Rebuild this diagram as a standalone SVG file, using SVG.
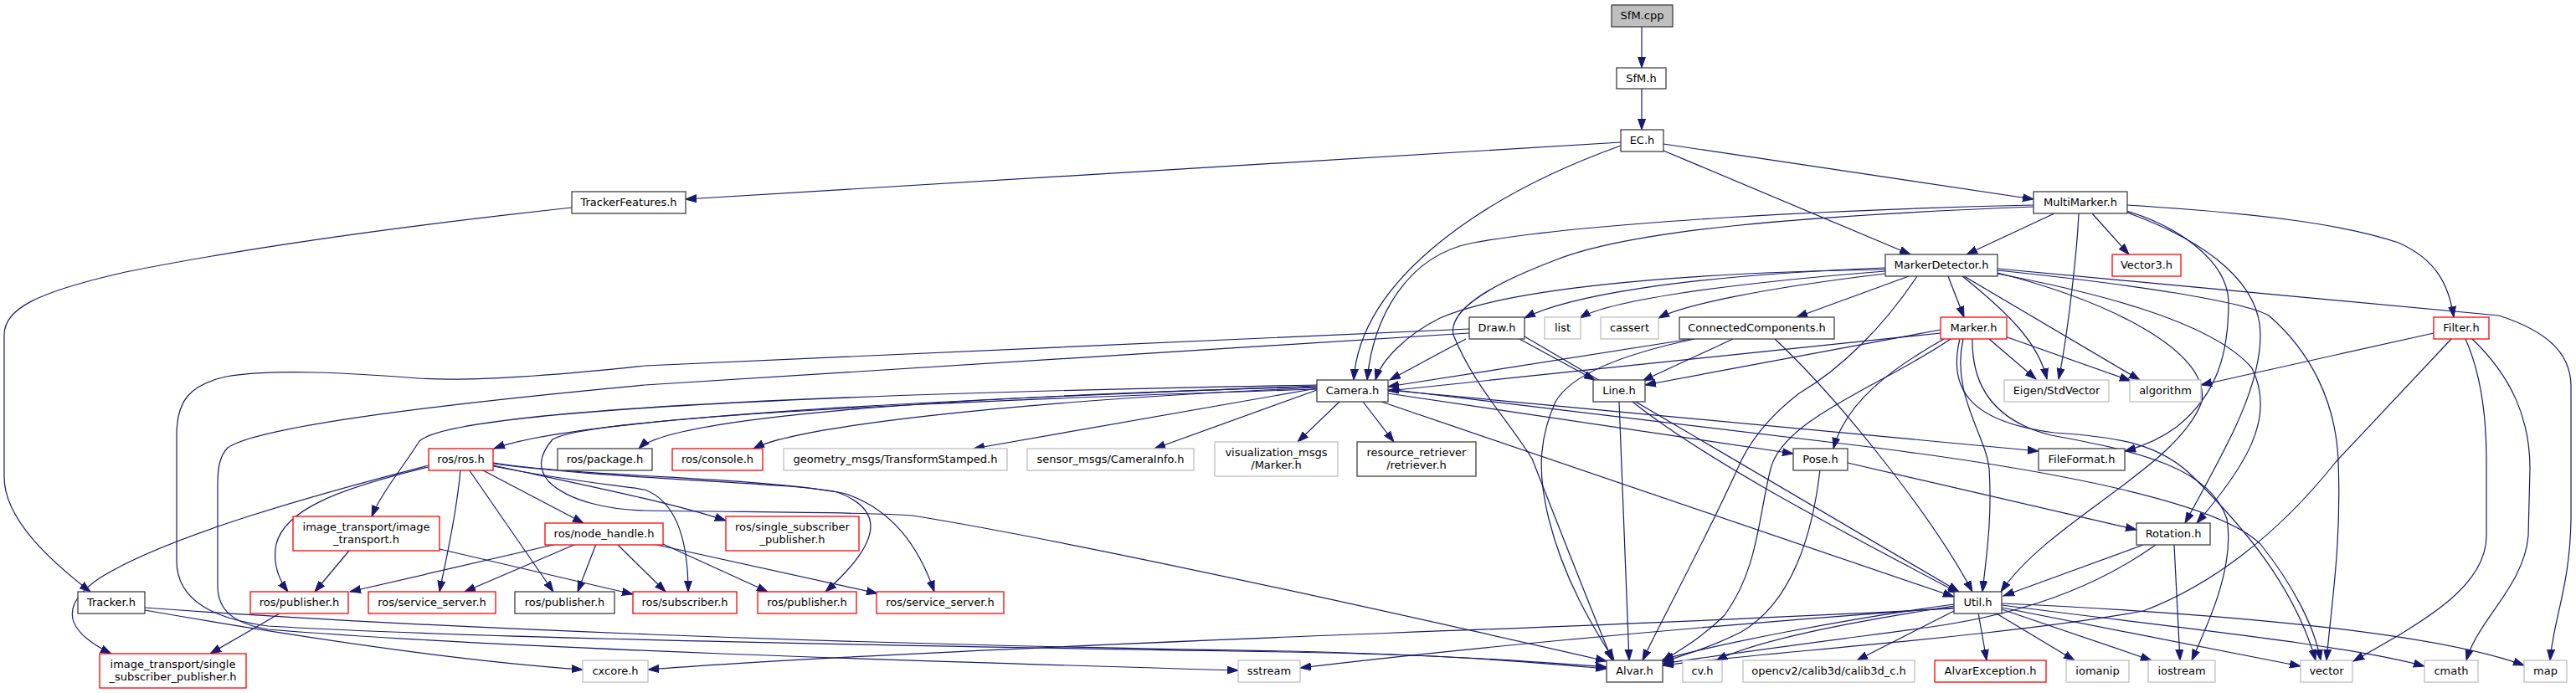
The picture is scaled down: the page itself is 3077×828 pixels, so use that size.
<svg xmlns="http://www.w3.org/2000/svg" width="3077" height="828" viewBox="0 0 3077 828">
<style>
.n rect{fill:#fff;stroke:#404040;stroke-width:1.3}
.r rect{fill:#fff;stroke:#ff0000;stroke-width:1.3}
.g rect{fill:#fff;stroke:#bfbfbf;stroke-width:1.3}
.s rect{fill:#bfbfbf;stroke:#404040;stroke-width:1.3}
text{font-family:"DejaVu Sans","Liberation Sans",sans-serif;font-size:13px;fill:#000;text-anchor:middle}
#edges path{fill:none;stroke:#191970;stroke-width:1.2;marker-end:url(#a)}
</style>
<defs>
<marker id="a" markerUnits="userSpaceOnUse" markerWidth="14" markerHeight="10" refX="13" refY="5" orient="auto">
<path d="M0,0.5 L13,5 L0,9.5 z" fill="#191970" stroke="#191970" stroke-width="1"/>
</marker>
</defs>
<rect width="3077" height="828" fill="#fff"/>
<g id="edges">
<path d="M1961,32 L1961,81"/>
<path d="M1961,106 L1961,155"/>
<path d="M1936,170 L819,238"/>
<path d="M1987,172 L2429,238"/>
<path d="M1987,180 L2282,304"/>
<path d="M1936,174 C1780,230 1625,330 1617,454"/>
<path d="M683,248 C500,268 300,295 150,325 C40,350 5,370 5,400 L5,570 C5,620 60,670 108,707"/>
<path d="M2454,255 L2349,304"/>
<path d="M2429,245 C2200,250 1900,265 1760,290 C1680,305 1640,380 1633,454"/>
<path d="M2429,247 C2150,258 1950,275 1860,310 C1780,340 1730,370 1736,400 C1760,460 1800,500 1830,548 C1870,650 1905,740 1926,789"/>
<path d="M2499,255 L2543,304"/>
<path d="M2483,255 C2481,300 2470,400 2459,453"/>
<path d="M2541,245 C2700,255 2800,268 2865,290 C2910,310 2925,340 2931,379"/>
<path d="M2540,252 C2600,270 2660,310 2662,360 C2662,420 2650,470 2600,510 C2580,525 2560,533 2538,539"/>
<path d="M2541,254 C2640,290 2700,340 2700,400 C2700,470 2650,550 2610,625"/>
<path d="M2252,320 C2000,330 1870,355 1821,380"/>
<path d="M2252,324 C2050,340 1920,360 1887,380"/>
<path d="M2252,327 C2100,345 2010,365 1981,380"/>
<path d="M2280,330 L2146,379"/>
<path d="M2327,330 L2346,379"/>
<path d="M2252,322 C2000,326 1800,345 1720,380 C1680,400 1650,430 1643,454"/>
<path d="M2344,330 C2400,375 2435,410 2445,453"/>
<path d="M2346,330 L2556,454"/>
<path d="M2290,330 C2250,390 2200,440 2149,470 C2110,500 2090,530 2080,550 C2040,640 1990,730 1962,789"/>
<path d="M2386,326 C2520,360 2640,420 2630,480 C2600,560 2450,620 2390,707"/>
<path d="M2386,327 C2480,345 2640,380 2690,440 C2720,500 2680,560 2624,625"/>
<path d="M2386,323 C2550,340 2680,360 2710,377 C2760,420 2790,480 2793,550 C2797,650 2785,720 2779,789"/>
<path d="M2386,321 L2985,377 C3040,395 3070,420 3071,460 L3071,620 C3070,700 3050,740 3046,789"/>
<path d="M1751,405 L1660,454"/>
<path d="M1815,405 L1905,454"/>
<path d="M1821,402 L2340,707"/>
<path d="M1755,393 L770,437 C650,450 560,456 500,452 C420,446 330,440 270,450 C225,460 211,480 211,520 L211,670 C211,720 260,740 320,748 C600,765 1300,775 1540,779 C1750,783 1850,792 1919,797"/>
<path d="M1755,398 L770,460 C450,490 300,515 272,535 C262,545 260,560 260,580 L260,700 C260,730 280,745 320,752 C600,775 1100,790 1479,801"/>
<path d="M2020,405 L1658,462"/>
<path d="M2070,405 L1962,455"/>
<path d="M2024,405 C1930,425 1875,450 1858,480 C1840,520 1835,560 1850,620 C1870,700 1910,760 1928,789"/>
<path d="M2120,405 C2200,480 2310,620 2356,707"/>
<path d="M2318,398 L1658,467"/>
<path d="M2318,394 L1965,460"/>
<path d="M2376,405 L2432,453"/>
<path d="M2395,402 L2545,455"/>
<path d="M2322,405 C2260,440 2205,480 2190,536"/>
<path d="M2330,405 C2250,460 2130,500 2115,560 C2100,620 2100,680 2060,735 C2030,765 2000,780 1986,790"/>
<path d="M2345,405 C2330,470 2372,520 2376,560 C2380,620 2372,670 2368,707"/>
<path d="M2356,405 C2355,470 2390,505 2450,520 C2560,540 2640,560 2660,620 C2670,680 2635,750 2618,789"/>
<path d="M2341,405 C2325,470 2360,505 2454,517 C2530,522 2580,530 2620,570 C2680,630 2740,700 2766,789"/>
<path d="M1573,461 C1200,475 700,495 590,536"/>
<path d="M1573,462 C1100,475 800,500 763,536"/>
<path d="M1573,463 C1200,480 950,510 900,536"/>
<path d="M1573,464 L1163,536"/>
<path d="M1573,466 L1379,536"/>
<path d="M1600,480 L1550,528"/>
<path d="M1628,480 L1665,528"/>
<path d="M1573,460 C1000,470 540,490 501,527 C480,560 455,590 444,617"/>
<path d="M1573,465 C1100,480 700,500 660,525 C643,545 643,560 655,575 C680,600 730,609 770,610 C900,612 1050,612 1090,616 C1300,650 1700,740 1919,790"/>
<path d="M1658,470 L2142,542"/>
<path d="M1658,466 L2435,539"/>
<path d="M1650,480 L2334,713"/>
<path d="M1658,465 L2200,530 C2450,560 2650,600 2700,650 C2740,700 2765,750 2772,789"/>
<path d="M512,556 C380,590 200,640 120,690 C60,730 90,760 133,781"/>
<path d="M512,558 C400,585 340,610 330,650 C325,675 335,695 344,707"/>
<path d="M550,561 C545,620 530,680 525,707"/>
<path d="M560,561 L661,707"/>
<path d="M575,561 L697,625"/>
<path d="M589,556 C700,580 800,600 867,622"/>
<path d="M589,557 C680,575 740,580 770,585 C810,600 822,650 822,707"/>
<path d="M589,553 C700,570 900,570 1000,588 C1060,610 1050,650 986,707"/>
<path d="M589,554 C750,575 950,575 1010,590 C1070,610 1100,660 1116,707"/>
<path d="M417,658 L376,707"/>
<path d="M525,656 L756,710"/>
<path d="M665,650 L418,707"/>
<path d="M688,650 L555,707"/>
<path d="M712,650 L690,707"/>
<path d="M737,650 L795,707"/>
<path d="M792,650 L917,707"/>
<path d="M780,650 L1048,709"/>
<path d="M334,733 L251,781"/>
<path d="M173,729 C350,760 550,790 696,800"/>
<path d="M173,726 C500,750 1000,770 1540,778 C1750,783 1850,793 1919,799"/>
<path d="M2207,553 L2552,633"/>
<path d="M2174,561 C2165,640 2140,720 2080,755 C2040,775 2010,783 1986,791"/>
<path d="M2907,398 L2629,460"/>
<path d="M2928,405 L2790,552 C2720,640 2640,700 2560,730 C2400,760 2100,780 1986,795"/>
<path d="M2945,405 C2965,450 2970,500 2970,550 L2970,640 C2970,700 2900,740 2811,790"/>
<path d="M2953,405 C3000,450 3022,500 3022,560 L3020,640 C3015,700 2960,740 2946,789"/>
<path d="M2560,651 L2393,712"/>
<path d="M2575,651 C2520,690 2440,730 2307,749 C2150,770 2050,783 1986,793"/>
<path d="M2597,651 L2604,789"/>
<path d="M1934,480 L1946,789"/>
<path d="M1950,480 C2050,560 2250,660 2340,709"/>
<path d="M2334,722 C2200,740 2050,770 1986,788"/>
<path d="M2334,724 C2200,745 2100,765 2050,789"/>
<path d="M2334,730 L2218,789"/>
<path d="M2334,727 C2000,745 1600,758 1540,761 C1200,775 900,790 774,800"/>
<path d="M2334,726 C2000,750 1700,780 1553,798"/>
<path d="M2363,732 L2373,789"/>
<path d="M2383,732 L2478,789"/>
<path d="M2391,728 L2570,789"/>
<path d="M2391,726 L2748,796"/>
<path d="M2391,723 C2600,750 2800,770 2896,796"/>
<path d="M2391,721 C2700,735 2920,760 3015,795"/>
</g>
<g id="n_sfmcpp" class="s"><rect x="1925" y="6" width="73" height="26"/><text x="1961.5" y="22.5">SfM.cpp</text></g>
<g id="n_sfmh" class="n"><rect x="1931" y="81" width="59" height="25"/><text x="1960.5" y="97.5">SfM.h</text></g>
<g id="n_ech" class="n"><rect x="1936" y="155" width="51" height="26"/><text x="1961.5" y="171.5">EC.h</text></g>
<g id="n_trackerfeatures" class="n"><rect x="683" y="229" width="136" height="26"/><text x="751" y="245.5">TrackerFeatures.h</text></g>
<g id="n_multimarker" class="n"><rect x="2429" y="229" width="112" height="26"/><text x="2485" y="245.5">MultiMarker.h</text></g>
<g id="n_markerdetector" class="n"><rect x="2252" y="304" width="134" height="26"/><text x="2319" y="320.5">MarkerDetector.h</text></g>
<g id="n_vector3" class="r"><rect x="2523" y="304" width="82" height="26"/><text x="2564" y="320.5">Vector3.h</text></g>
<g id="n_draw" class="n"><rect x="1755" y="379" width="66" height="26"/><text x="1788" y="395.5">Draw.h</text></g>
<g id="n_list" class="g"><rect x="1845" y="379" width="43" height="26"/><text x="1866.5" y="395.5">list</text></g>
<g id="n_cassert" class="g"><rect x="1912" y="379" width="69" height="26"/><text x="1946.5" y="395.5">cassert</text></g>
<g id="n_cc" class="n"><rect x="2006" y="379" width="185" height="26"/><text x="2098.5" y="395.5">ConnectedComponents.h</text></g>
<g id="n_marker" class="r"><rect x="2318" y="379" width="79" height="26"/><text x="2357.5" y="395.5">Marker.h</text></g>
<g id="n_filter" class="r"><rect x="2907" y="379" width="66" height="26"/><text x="2940" y="395.5">Filter.h</text></g>
<g id="n_camera" class="n"><rect x="1573" y="454" width="85" height="26"/><text x="1615.5" y="470.5">Camera.h</text></g>
<g id="n_line" class="n"><rect x="1903" y="454" width="62" height="26"/><text x="1934" y="470.5">Line.h</text></g>
<g id="n_eigen" class="g"><rect x="2394" y="454" width="125" height="26"/><text x="2456.5" y="470.5">Eigen/StdVector</text></g>
<g id="n_algorithm" class="g"><rect x="2544" y="454" width="85" height="26"/><text x="2586.5" y="470.5">algorithm</text></g>
<g id="n_rosros" class="r"><rect x="512" y="536" width="77" height="26"/><text x="550.5" y="552.5">ros/ros.h</text></g>
<g id="n_rospackage" class="n"><rect x="666" y="536" width="113" height="26"/><text x="722.5" y="552.5">ros/package.h</text></g>
<g id="n_rosconsole" class="r"><rect x="803" y="536" width="108" height="26"/><text x="857" y="552.5">ros/console.h</text></g>
<g id="n_geometry" class="g"><rect x="936" y="536" width="267" height="26"/><text x="1069.5" y="552.5">geometry_msgs/TransformStamped.h</text></g>
<g id="n_sensor" class="g"><rect x="1227" y="536" width="199" height="26"/><text x="1326.5" y="552.5">sensor_msgs/CameraInfo.h</text></g>
<g id="n_vis" class="g"><rect x="1451" y="528" width="147" height="41"/><text x="1524.5" y="545">visualization_msgs</text><text x="1524.5" y="560">/Marker.h</text></g>
<g id="n_resource" class="n"><rect x="1621" y="528" width="142" height="41"/><text x="1692" y="545">resource_retriever</text><text x="1692" y="560">/retriever.h</text></g>
<g id="n_pose" class="n"><rect x="2142" y="536" width="65" height="26"/><text x="2174.5" y="552.5">Pose.h</text></g>
<g id="n_fileformat" class="n"><rect x="2435" y="536" width="103" height="26"/><text x="2486.5" y="552.5">FileFormat.h</text></g>
<g id="n_imagetransport" class="r"><rect x="350" y="617" width="175" height="41"/><text x="437.5" y="634">image_transport/image</text><text x="437.5" y="649">_transport.h</text></g>
<g id="n_nodehandle" class="r"><rect x="651" y="625" width="141" height="26"/><text x="721.5" y="641.5">ros/node_handle.h</text></g>
<g id="n_rossinglesub" class="r"><rect x="867" y="617" width="159" height="41"/><text x="946.5" y="634">ros/single_subscriber</text><text x="946.5" y="649">_publisher.h</text></g>
<g id="n_rotation" class="n"><rect x="2552" y="625" width="88" height="26"/><text x="2596" y="641.5">Rotation.h</text></g>
<g id="n_tracker" class="n"><rect x="93" y="707" width="80" height="26"/><text x="133" y="723.5">Tracker.h</text></g>
<g id="n_pub1" class="r"><rect x="299" y="707" width="117" height="26"/><text x="357.5" y="723.5">ros/publisher.h</text></g>
<g id="n_srv1" class="r"><rect x="440" y="707" width="152" height="26"/><text x="516" y="723.5">ros/service_server.h</text></g>
<g id="n_pub2" class="n"><rect x="615" y="707" width="119" height="26"/><text x="674.5" y="723.5">ros/publisher.h</text></g>
<g id="n_sub" class="r"><rect x="756" y="707" width="124" height="26"/><text x="818" y="723.5">ros/subscriber.h</text></g>
<g id="n_pub3" class="r"><rect x="905" y="707" width="118" height="26"/><text x="964" y="723.5">ros/publisher.h</text></g>
<g id="n_srv2" class="r"><rect x="1047" y="707" width="152" height="26"/><text x="1123" y="723.5">ros/service_server.h</text></g>
<g id="n_util" class="n"><rect x="2334" y="707" width="57" height="26"/><text x="2362.5" y="723.5">Util.h</text></g>
<g id="n_itsingle" class="r"><rect x="119" y="781" width="175" height="41"/><text x="206.5" y="798">image_transport/single</text><text x="206.5" y="813">_subscriber_publisher.h</text></g>
<g id="n_cxcore" class="g"><rect x="696" y="789" width="78" height="26"/><text x="735" y="805.5">cxcore.h</text></g>
<g id="n_sstream" class="g"><rect x="1479" y="789" width="74" height="26"/><text x="1516" y="805.5">sstream</text></g>
<g id="n_alvar" class="n"><rect x="1919" y="789" width="67" height="26"/><text x="1952.5" y="805.5">Alvar.h</text></g>
<g id="n_cv" class="g"><rect x="2010" y="789" width="47" height="26"/><text x="2033.5" y="805.5">cv.h</text></g>
<g id="n_calib3d" class="g"><rect x="2082" y="789" width="205" height="26"/><text x="2184.5" y="805.5">opencv2/calib3d/calib3d_c.h</text></g>
<g id="n_alvarexception" class="r"><rect x="2311" y="789" width="133" height="26"/><text x="2377.5" y="805.5">AlvarException.h</text></g>
<g id="n_iomanip" class="g"><rect x="2468" y="789" width="75" height="26"/><text x="2505.5" y="805.5">iomanip</text></g>
<g id="n_iostream" class="g"><rect x="2566" y="789" width="80" height="26"/><text x="2606" y="805.5">iostream</text></g>
<g id="n_vector" class="g"><rect x="2748" y="789" width="62" height="26"/><text x="2779" y="805.5">vector</text></g>
<g id="n_cmath" class="g"><rect x="2896" y="789" width="64" height="26"/><text x="2928" y="805.5">cmath</text></g>
<g id="n_map" class="g"><rect x="3015" y="789" width="51" height="26"/><text x="3040.5" y="805.5">map</text></g>
</svg>
